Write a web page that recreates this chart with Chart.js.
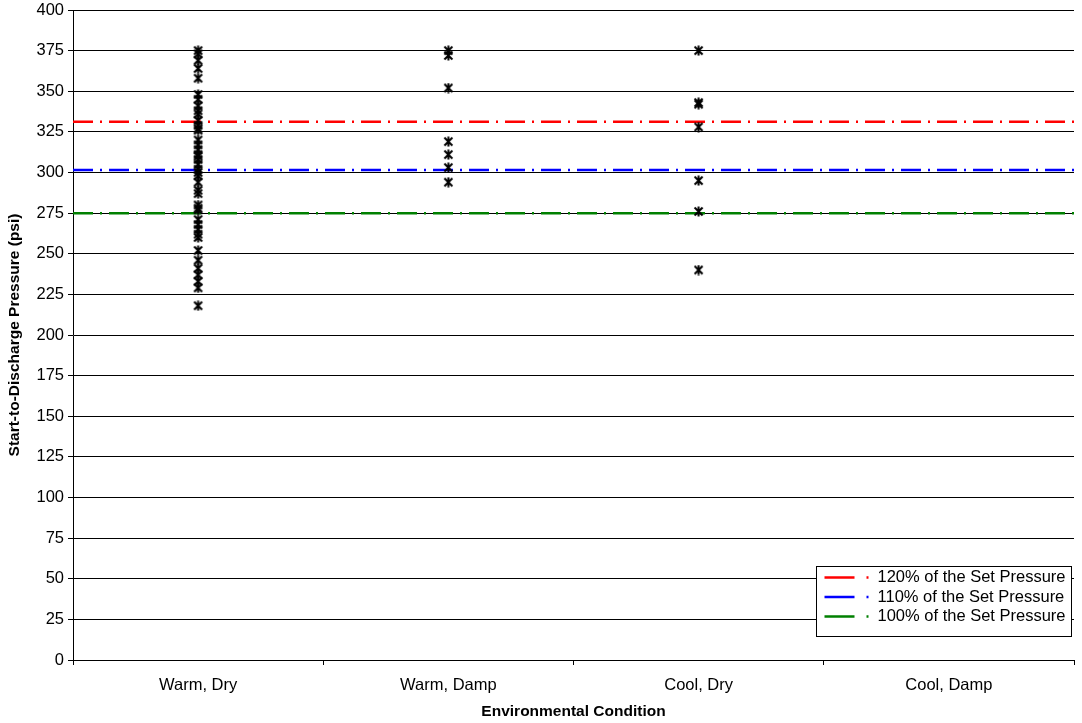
<!DOCTYPE html>
<html>
<head>
<meta charset="utf-8">
<script src="https://cdn.jsdelivr.net/npm/chart.js@4/dist/chart.umd.min.js"></script>
<style>
  html, body { margin: 0; padding: 0; background: #fff; }
  #wrap { width: 1082px; height: 723px; position: relative; }
</style>
</head>
<body>
<div id="wrap"><canvas id="c" width="1082" height="723"></canvas></div>
<script>
// Environmental conditions along the x axis
const categories = ['Warm, Dry', 'Warm, Damp', 'Cool, Dry', 'Cool, Damp'];

// Measured start-to-discharge pressures (psi) for each condition
const warmDry = [375, 373, 369, 364, 358, 348, 345, 341, 338, 336, 332, 329, 327, 326,
                 320, 317, 314, 311, 310, 308, 305, 302, 300, 298, 294, 289, 287, 280,
                 278, 277, 271, 268, 265, 262, 260, 252, 246, 241, 237, 233, 229, 218];
const warmDamp = [375, 372, 352, 319, 311, 303, 294];
const coolDry = [375, 343, 342, 328, 295, 276, 240];
const coolDamp = [];

// Reference pressure levels (psi)
const refLabels = ['120% of the Set Pressure', '110% of the Set Pressure', '100% of the Set Pressure'];
const refValues = [331.2, 301.5, 275];
const refColors = ['#ff0000', '#0000ff', '#008000'];

// Y axis ticks
const yMin = 0, yMax = 400, yStep = 25;

const FONT = '"Liberation Sans", Arial, sans-serif';
const FS = 16.5;

// Asterisk-style marker: an X with a vertical stroke
function makeStar() {
  const s = 11, cv = document.createElement('canvas');
  cv.width = s; cv.height = s;
  const g = cv.getContext('2d');
  g.strokeStyle = '#000'; g.lineWidth = 2;
  g.beginPath();
  g.moveTo(1.5, 1.5); g.lineTo(9.5, 9.5);
  g.moveTo(9.5, 1.5); g.lineTo(1.5, 9.5);
  g.moveTo(5.5, 0.5); g.lineTo(5.5, 10.5);
  g.stroke();
  return cv;
}
const star = makeStar();

const seriesByCat = [warmDry, warmDamp, coolDry, coolDamp];
const pointData = [];
seriesByCat.forEach((vals, i) => vals.forEach(v => pointData.push({ x: i + 0.5, y: v })));

const datasets = [{
  label: 'Start-to-Discharge',
  data: pointData,
  showLine: false,
  pointStyle: star,
  pointRadius: 5,
  pointHoverRadius: 5,
  order: 0
}];
refValues.forEach((v, i) => datasets.push({
  label: refLabels[i],
  data: [{ x: 0, y: v }, { x: categories.length, y: v }],
  borderColor: refColors[i],
  borderWidth: 2.5,
  borderDash: [20, 7, 2, 7],
  pointRadius: 0,
  showLine: true,
  fill: false,
  order: 1 + i
}));

// Boxed legend in the lower right corner of the plot
const boxLegend = {
  id: 'boxLegend',
  afterDatasetsDraw(chart) {
    const { ctx, chartArea } = chart;
    const right = chartArea.right - 2.5, left = right - 255;
    const bottom = chartArea.bottom - 23.5, top = bottom - 70;
    ctx.save();
    ctx.fillStyle = '#fff';
    ctx.fillRect(left, top, right - left, bottom - top);
    ctx.strokeStyle = '#000'; ctx.lineWidth = 1;
    ctx.strokeRect(left, top, right - left, bottom - top);
    ctx.font = FS + 'px ' + FONT;
    ctx.textBaseline = 'middle';
    ctx.fillStyle = '#000';
    refLabels.forEach((lab, i) => {
      const y = top + 11 + i * 19.5;
      ctx.strokeStyle = refColors[i];
      ctx.lineWidth = 2.5;
      ctx.setLineDash([30, 12, 2, 100]);
      ctx.beginPath();
      ctx.moveTo(left + 8, y); ctx.lineTo(left + 52, y);
      ctx.stroke();
      ctx.setLineDash([]);
      ctx.fillText(lab, left + 61, y);
    });
    ctx.restore();
  }
};

new Chart(document.getElementById('c'), {
  type: 'scatter',
  data: { datasets },
  options: {
    responsive: false,
    animation: false,
    layout: { padding: { top: 10, right: 8, left: 0, bottom: 0 } },
    plugins: { legend: { display: false }, tooltip: { enabled: false } },
    scales: {
      x: {
        type: 'linear',
        min: 0, max: categories.length,
        afterBuildTicks(scale) {
          const t = [];
          for (let i = 0; i <= categories.length * 2; i++) t.push({ value: i / 2 });
          scale.ticks = t;
        },
        afterFit(scale) {
          scale.height = 63;
          scale.paddingLeft = 0;
          scale.paddingRight = 0;
        },
        grid: {
          drawOnChartArea: false,
          drawTicks: true,
          tickLength: 5,
          tickColor: (c) => (c.tick && c.tick.value % 1 === 0) ? '#000' : 'rgba(0,0,0,0)'
        },
        border: { color: '#000', width: 1 },
        ticks: {
          autoSkip: false,
          maxRotation: 0,
          padding: 11,
          color: '#000',
          font: { family: FONT, size: FS },
          callback: (v) => (v % 1 === 0.5) ? categories[Math.floor(v)] : ''
        },
        title: {
          display: true,
          text: 'Environmental Condition',
          color: '#000',
          font: { family: FONT, size: FS - 1, weight: 'bold' },
          padding: { top: 0, bottom: 2 }
        }
      },
      y: {
        min: yMin, max: yMax,
        afterFit(scale) {
          scale.width = 73;
          scale.paddingTop = 0;
          scale.paddingBottom = 0;
        },
        ticks: {
          stepSize: yStep,
          padding: 4,
          color: '#000',
          font: { family: FONT, size: FS }
        },
        grid: {
          color: '#000',
          lineWidth: 1,
          tickLength: 5,
          tickColor: '#000'
        },
        border: { color: '#000', width: 1 },
        title: {
          display: true,
          text: 'Start-to-Discharge Pressure (psi)',
          color: '#000',
          font: { family: FONT, size: FS - 1, weight: 'bold' },
          padding: { top: 5, bottom: 0 }
        }
      }
    }
  },
  plugins: [boxLegend]
});
</script>
</body>
</html>
